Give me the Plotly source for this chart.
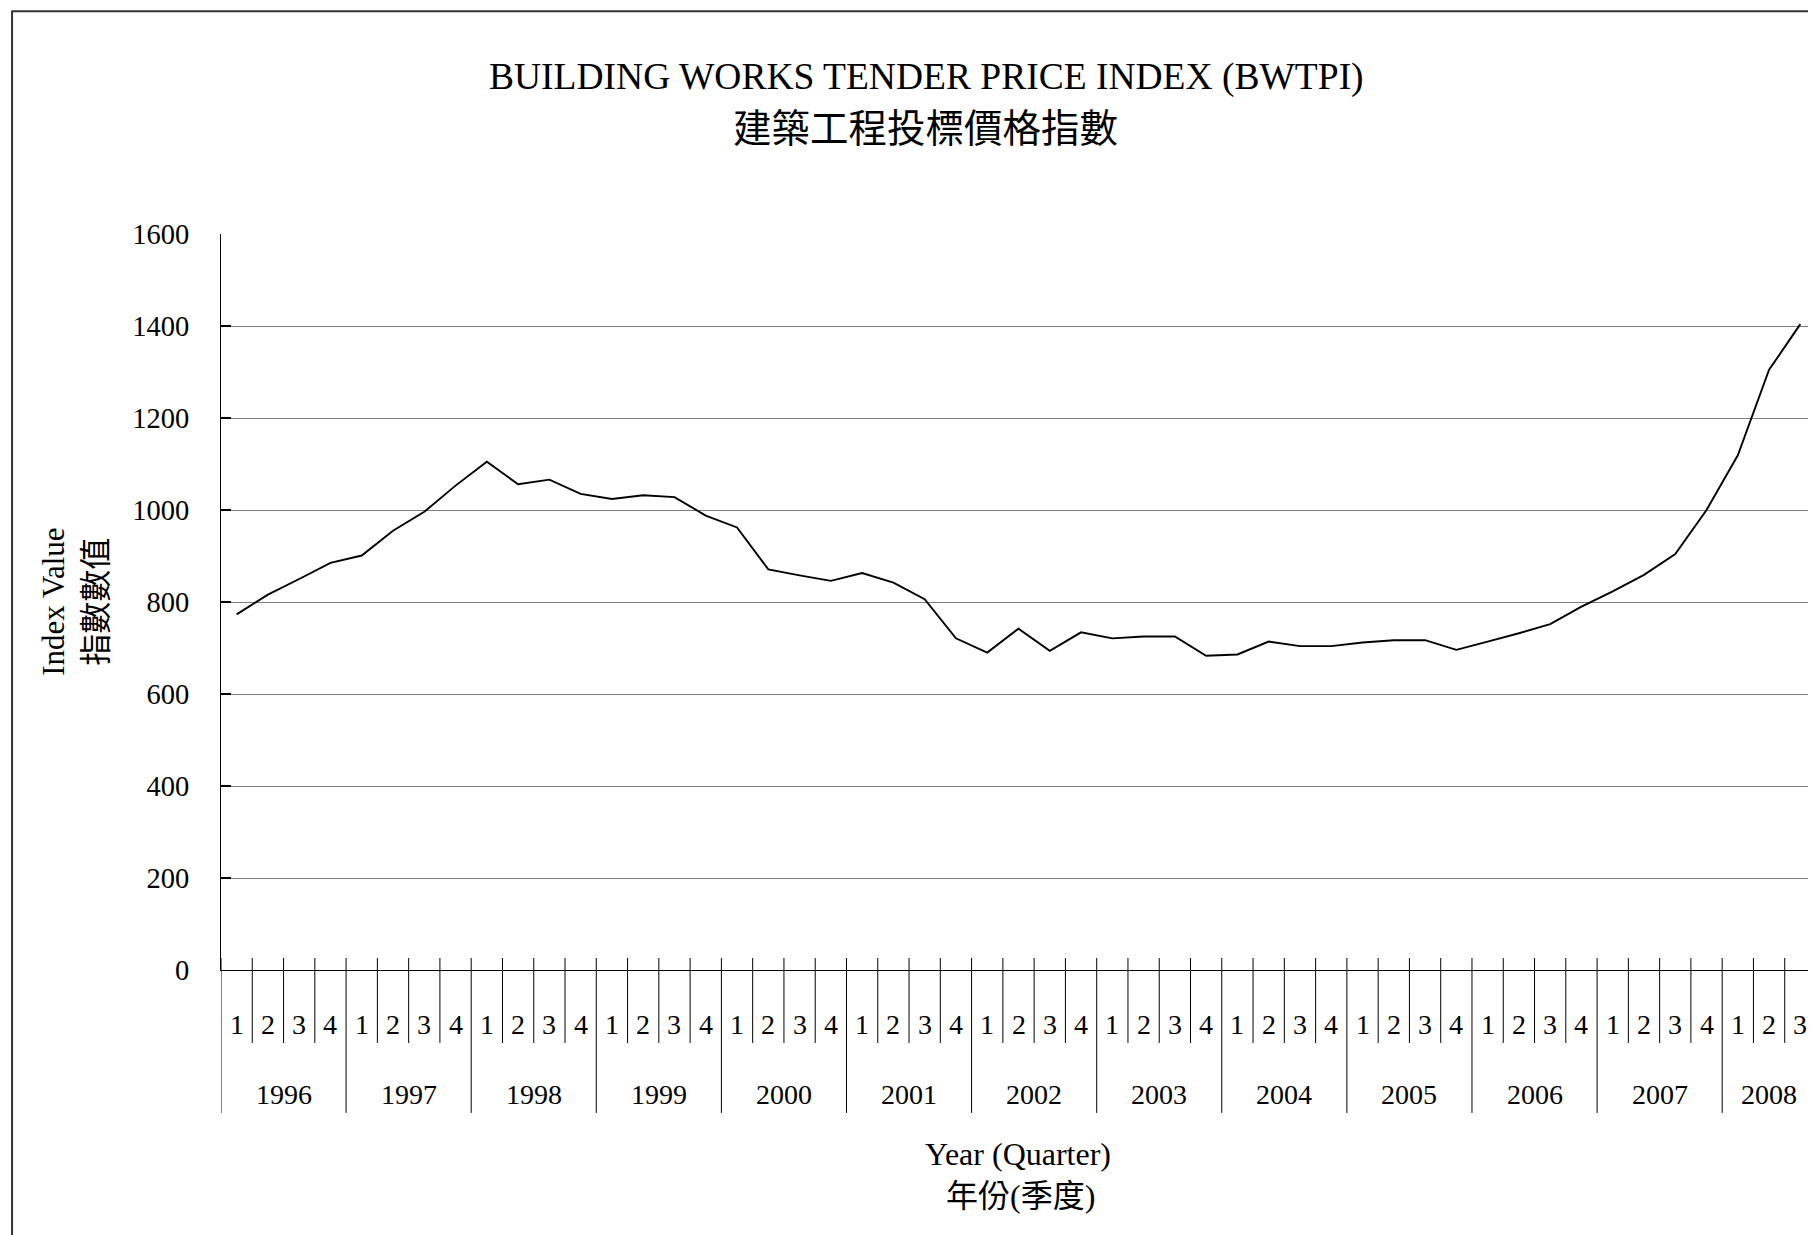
import plotly.graph_objects as go

# ---- data ----
years = [1996, 1997, 1998, 1999, 2000, 2001, 2002, 2003, 2004, 2005, 2006, 2007, 2008]
quarters_per_year = [4, 4, 4, 4, 4, 4, 4, 4, 4, 4, 4, 4, 3]
quarter_labels = ["1", "2", "3", "4"]
index_values = [773, 816, 850, 885, 901, 955, 996, 1053,
                1105, 1056, 1066, 1035, 1024, 1032, 1028, 988,
                962, 871, 858, 846, 863, 842, 806, 721,
                690, 742, 694, 734, 721, 725, 725, 683,
                686, 714, 704, 704, 712, 717, 717, 696,
                714, 732, 752, 790, 823, 859, 904, 1000,
                1119, 1305, 1404]
y_ticks = [0, 200, 400, 600, 800, 1000, 1200, 1400, 1600]

title_en = "BUILDING WORKS TENDER PRICE INDEX (BWTPI)"
title_zh = "建築工程投標價格指數"
ytitle_en = "Index Value"
ytitle_zh = "指數數值"
xtitle_en = "Year (Quarter)"
xtitle_zh = "年份(季度)"

# ---- layout geometry (screen pixels; page body has an 8px margin) ----
OFF = 8
W, H = 1816 - OFF, 1235 - OFF
L, R = 220.5 - OFF, 0
TOP_SCR, BOT_SCR = 233.5, 970.0
T = TOP_SCR - OFF
B = H - (BOT_SCR - OFF)
PW = W - L - R
PH = H - T - B

def px(xs):
    # screen x -> paper x
    return (xs - OFF - L) / PW

def py(ys):
    # screen y -> paper y
    return (BOT_SCR - ys) / PH

SERIF = "Liberation Serif, Times New Roman, serif"
CJK = "Liberation Serif, Noto Sans CJK TC, Noto Sans CJK SC, sans-serif"

x_pos = list(range(len(index_values)))

fig = go.Figure()
fig.add_trace(go.Scatter(
    x=x_pos, y=index_values, mode="lines",
    line=dict(color="black", width=1.9),
    showlegend=False, hoverinfo="skip"))

shapes = []
annotations = []

idx = 0
for yr, nq in zip(years, quarters_per_year):
    start = idx
    shapes.append(dict(type="line", xref="x", yref="paper",
                       x0=start - 0.5, x1=start - 0.5, y0=py(958), y1=py(1113),
                       line=dict(color="black", width=1)))
    for q in range(nq):
        if q > 0:
            shapes.append(dict(type="line", xref="x", yref="paper",
                               x0=idx - 0.5, x1=idx - 0.5, y0=py(958), y1=py(1043),
                               line=dict(color="black", width=1)))
        annotations.append(dict(x=idx, y=py(1025), xref="x", yref="paper",
                                text=quarter_labels[q], showarrow=False,
                                xanchor="center", yanchor="middle",
                                font=dict(family=SERIF, size=28, color="black")))
        idx += 1
    annotations.append(dict(x=(start + idx - 1) / 2, y=py(1095), xref="x", yref="paper",
                            text=str(yr), showarrow=False,
                            xanchor="center", yanchor="middle",
                            font=dict(family=SERIF, size=28, color="black")))
shapes.append(dict(type="line", xref="x", yref="paper",
                   x0=idx - 0.5, x1=idx - 0.5, y0=py(958), y1=py(1113),
                   line=dict(color="black", width=1)))

# outer frame (top and left edges)
shapes.append(dict(type="line", xref="paper", yref="paper",
                   x0=px(11), x1=px(1830), y0=py(10.5), y1=py(10.5),
                   line=dict(color="#333333", width=2)))
shapes.append(dict(type="line", xref="paper", yref="paper",
                   x0=px(11.5), x1=px(11.5), y0=py(10), y1=py(1250),
                   line=dict(color="#333333", width=2)))

annotations += [
    dict(x=px(926), y=py(76), xref="paper", yref="paper", text=title_en,
         showarrow=False, xanchor="center", yanchor="middle",
         font=dict(family=SERIF, size=37.5, color="black")),
    dict(x=px(925), y=py(128), xref="paper", yref="paper", text=title_zh,
         showarrow=False, xanchor="center", yanchor="middle",
         font=dict(family=CJK, size=38.5, color="black")),
    dict(x=px(53), y=py(602), xref="paper", yref="paper", text=ytitle_en,
         showarrow=False, xanchor="center", yanchor="middle", textangle=-90,
         font=dict(family=SERIF, size=31, color="black")),
    dict(x=px(96), y=py(602), xref="paper", yref="paper", text=ytitle_zh,
         showarrow=False, xanchor="center", yanchor="middle", textangle=-90,
         font=dict(family=CJK, size=32, color="black")),
    dict(x=px(1018), y=py(1154), xref="paper", yref="paper", text=xtitle_en,
         showarrow=False, xanchor="center", yanchor="middle",
         font=dict(family=SERIF, size=32, color="black")),
    dict(x=px(1020), y=py(1196), xref="paper", yref="paper", text=xtitle_zh,
         showarrow=False, xanchor="center", yanchor="middle",
         font=dict(family=CJK, size=32, color="black")),
]

fig.update_layout(
    width=W, height=H,
    margin=dict(l=L, r=R, t=T, b=B, autoexpand=False),
    paper_bgcolor="white", plot_bgcolor="white",
    shapes=shapes, annotations=annotations,
    showlegend=False,
)
fig.update_xaxes(
    range=[-0.5, len(index_values) - 0.5],
    showticklabels=False, showgrid=False, zeroline=False,
    showline=True, linecolor="black", linewidth=1,
    ticks="", fixedrange=True,
)
fig.update_yaxes(
    range=[0, 1600], tickvals=y_ticks, ticktext=[str(v) for v in y_ticks],
    showgrid=True, gridcolor="#7f7f7f", gridwidth=1,
    zeroline=False, showline=True, linecolor="black", linewidth=1,
    ticks="inside", ticklen=10, tickcolor="black", tickwidth=1.5,
    ticklabelstandoff=25,
    tickfont=dict(family=SERIF, size=28.5, color="black"),
)

fig.write_html("out.html")
